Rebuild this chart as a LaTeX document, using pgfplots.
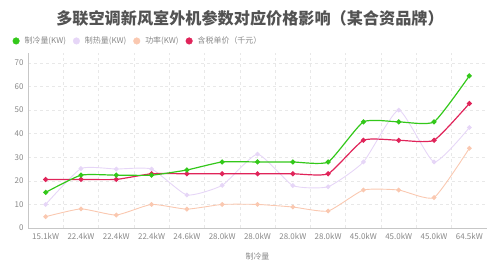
\documentclass[border=0pt]{standalone}
\usepackage{fontspec}
\setmainfont{Noto Sans CJK SC}
\usepackage{pgfplots}
\pgfplotsset{compat=1.18}

\definecolor{cgreen}{HTML}{33C81A}
\definecolor{clav}{HTML}{E6D6F7}
\definecolor{cpeach}{HTML}{FAC8B0}
\definecolor{cred}{HTML}{E0245A}
\definecolor{txt}{HTML}{888888}
\definecolor{gridc}{HTML}{E8E8E8}

\begin{document}
\begin{tikzpicture}[x=1bp,y=1bp]
\path[use as bounding box] (-28,-36) rectangle (472,228);
\node[font=\fontsize{16.2}{17}\selectfont\bfseries, text=black!68] at (222,210) {多联空调新风室外机参数对应价格影响（某合资品牌）};
\begin{axis}[
  at={(0,0)}, anchor=south west,
  scale only axis, width=459bp, height=175bp,
  xmin=-0.5, xmax=12.5, ymin=0, ymax=74.2,
  axis lines=left, axis line style={-, draw=black!22, line width=0.7pt},
  xtick={0,...,12},
  xticklabels={15.1kW,22.4kW,22.4kW,22.4kW,24.6kW,28.0kW,28.0kW,28.0kW,28.0kW,45.0kW,45.0kW,45.0kW,64.5kW},
  minor xtick={0.5,1.5,...,11.5},
  ytick={0,10,...,70},
  major tick length=0pt, minor tick length=0pt,
  ymajorgrids, xminorgrids,
  major grid style={dashed, draw=gridc, line width=0.6pt},
  minor grid style={dashed, draw=gridc, line width=0.6pt},
  tick label style={font=\fontsize{8}{9}\selectfont, text=txt},
  /pgf/number format/assume math mode=true,
  xlabel={制冷量}, xlabel style={font=\fontsize{8}{9}\selectfont, text=txt, yshift=-6bp},
  every x tick label/.append style={yshift=-2bp},
  every y tick label/.append style={xshift=-1bp},
  legend columns=4,
  legend style={at={(axis description cs:-0.034,1.105)}, anchor=north west, draw=none, fill=none,
    font=\fontsize{8}{9}\selectfont, text=txt, inner sep=0pt,
    /tikz/column sep=3bp, /tikz/every even column/.append style={column sep=5bp}},
  legend image code/.code={\fill (0bp,0bp) circle (3.3bp);},
  legend cell align=left,
  clip=false,
]
\addlegendimage{color=cgreen}
\addlegendimage{color=clav}
\addlegendimage{color=cpeach}
\addlegendimage{color=cred}
\addplot[forget plot, color=clav, line width=0.9pt, smooth, tension=0.3, mark=*, mark size=1.9bp]
  coordinates {(0,10) (1,25.2) (2,25) (3,25) (4,14) (5,18.1) (6,31.3) (7,18) (8,17.5) (9,28) (10,50) (11,28) (12,42.6)};
\addplot[forget plot, color=cpeach, line width=0.9pt, smooth, tension=0.3, mark=*, mark size=1.9bp]
  coordinates {(0,4.8) (1,8.1) (2,5.5) (3,10) (4,8) (5,10) (6,10) (7,8.9) (8,7.2) (9,16.1) (10,16.1) (11,12.9) (12,33.8)};
\addplot[forget plot, color=cred, line width=1.2pt, smooth, tension=0.3, mark=*, mark size=1.9bp]
  coordinates {(0,20.6) (1,20.6) (2,20.6) (3,23) (4,23) (5,23) (6,23) (7,23) (8,23) (9,37.2) (10,37.2) (11,37.2) (12,52.8)};
\addplot[forget plot, color=cgreen, line width=1.2pt, smooth, tension=0.3, mark=*, mark size=1.9bp]
  coordinates {(0,15.1) (1,22.4) (2,22.4) (3,22.4) (4,24.6) (5,28) (6,28) (7,28) (8,28) (9,45) (10,45) (11,45) (12,64.5)};
\legend{制冷量(KW),制热量(KW),功率(KW),含税单价（千元）}
\end{axis}
\end{tikzpicture}
\end{document}
